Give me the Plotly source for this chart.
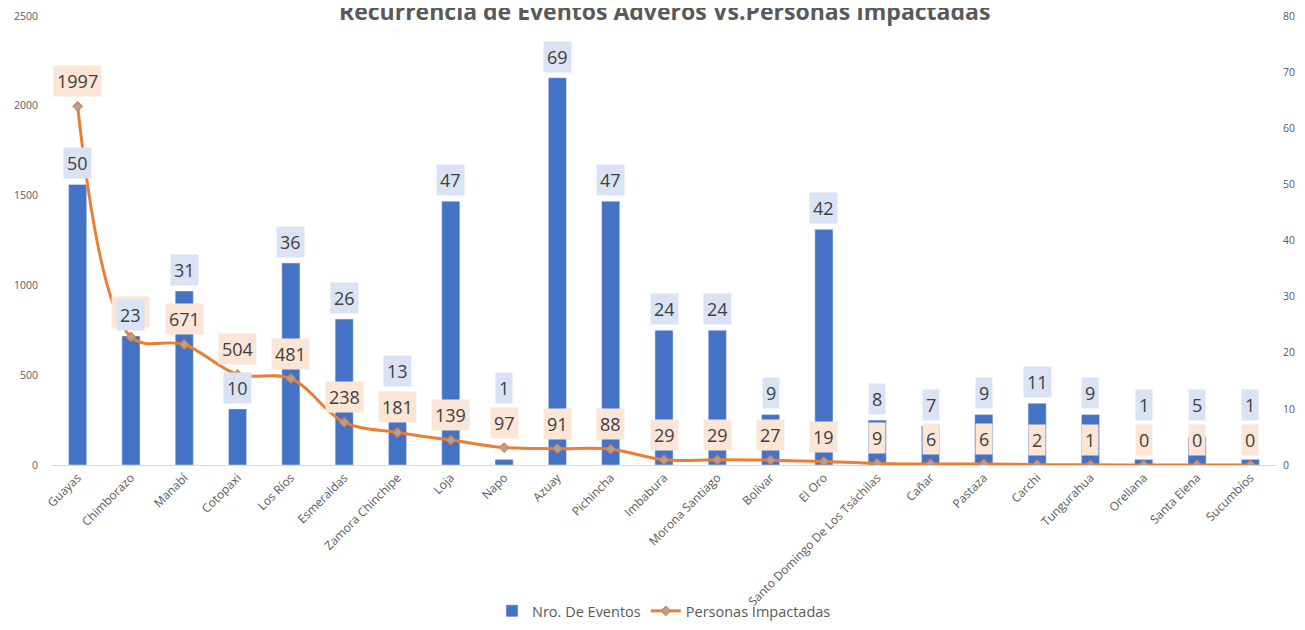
import plotly.graph_objects as go

provinces = ["Guayas", "Chimborazo", "Manabí", "Cotopaxi", "Los Ríos", "Esmeraldas",
             "Zamora Chinchipe", "Loja", "Napo", "Azuay", "Pichincha", "Imbabura",
             "Morona Santiago", "Bolívar", "El Oro", "Santo Domingo De Los Tsáchilas",
             "Cañar", "Pastaza", "Carchi", "Tungurahua", "Orellana", "Santa Elena", "Sucumbíos"]
eventos = [50, 23, 31, 10, 36, 26, 13, 47, 1, 69, 47, 24, 24, 9, 42, 8, 7, 9, 11, 9, 1, 5, 1]
personas = [1997, 713, 671, 504, 481, 238, 181, 139, 97, 91, 88, 29, 29, 27, 19, 9, 6, 6, 2, 1, 0, 0, 0]

title_text = "Recurrencia de Eventos Adveros Vs.Personas Impactadas"

# label placement styling
hidden_line_labels = {"Chimborazo"}            # covered by the bar label in the original
bar_label_above_line_label = {"Napo", "Orellana", "Santa Elena", "Sucumbíos"}

BLUE = "#4472C4"
ORANGE = "#ED7D31"
GRAY = "#595959"
LBL = "#404040"
BAR_BOX = "#DAE3F3"
LINE_BOX = "#FBE5D6"
FS = 18
PAD = 3
LINE_SHIFT = 9
BOX_H = 30

fig = go.Figure()
fig.add_trace(go.Bar(
    x=provinces, y=eventos, name="Nro. De Eventos",
    marker=dict(color=BLUE), yaxis="y",
))
fig.add_trace(go.Scatter(
    x=provinces, y=personas, name="Personas Impactadas", yaxis="y2",
    mode="lines+markers",
    line=dict(color=ORANGE, width=3, shape="spline", smoothing=1),
    marker=dict(symbol="diamond", size=7, color="#A5A5A5", line=dict(color=ORANGE, width=1.2)),
))

annotations = []
# line labels first (drawn underneath bar labels)
for p, v in zip(provinces, personas):
    col = LINE_BOX if p in hidden_line_labels else LBL
    annotations.append(dict(
        x=p, y=v, xref="x", yref="y2", text=str(v), showarrow=False,
        yanchor="bottom", yshift=LINE_SHIFT, bgcolor=LINE_BOX, borderpad=PAD,
        font=dict(family="Open Sans", size=FS, color=col),
    ))
for p, v, pv in zip(provinces, eventos, personas):
    if p in bar_label_above_line_label:
        annotations.append(dict(
            x=p, y=pv, xref="x", yref="y2", text=str(v), showarrow=False,
            yanchor="bottom", yshift=LINE_SHIFT + BOX_H + 5, bgcolor=BAR_BOX, borderpad=PAD,
            font=dict(family="Open Sans", size=FS, color=LBL),
        ))
    else:
        annotations.append(dict(
            x=p, y=v, xref="x", yref="y", text=str(v), showarrow=False,
            yanchor="bottom", yshift=5, bgcolor=BAR_BOX, borderpad=PAD,
            font=dict(family="Open Sans", size=FS, color=LBL),
        ))
annotations.append(dict(
    x=0.5, y=1, xref="paper", yref="paper", text="<b>" + title_text + "</b>",
    showarrow=False, yanchor="middle", yshift=5,
    font=dict(family="Open Sans", size=23, color=GRAY),
))

fig.update_layout(
    width=1289, height=614,
    margin=dict(l=43, r=20, t=8, b=157, autoexpand=False),
    paper_bgcolor="white", plot_bgcolor="white",
    bargap=0.66,
    showlegend=True,
    legend=dict(orientation="h", x=0.5, xanchor="center", y=-0.325, yanchor="middle",
                bgcolor="rgba(0,0,0,0)",
                font=dict(family="Open Sans", size=14.5, color=GRAY)),
    xaxis=dict(tickangle=-45, tickfont=dict(family="Open Sans", size=12, color=GRAY),
               showline=True, linecolor="#D9D9D9", linewidth=1, showgrid=False, ticks="",
               automargin=False, range=[-0.5, len(provinces) - 0.5]),
    yaxis=dict(range=[0, 80], dtick=10, side="right", showgrid=False, zeroline=False,
               tickfont=dict(family="Open Sans", size=10.5, color=GRAY), ticklabelstandoff=5,
               automargin=False),
    yaxis2=dict(range=[0, 2500], dtick=500, side="left", overlaying="y", showgrid=False,
                zeroline=False, tickfont=dict(family="Open Sans", size=10.5, color=GRAY),
                ticklabelstandoff=12, automargin=False),
    annotations=annotations,
)

fig.write_html("out.html")
